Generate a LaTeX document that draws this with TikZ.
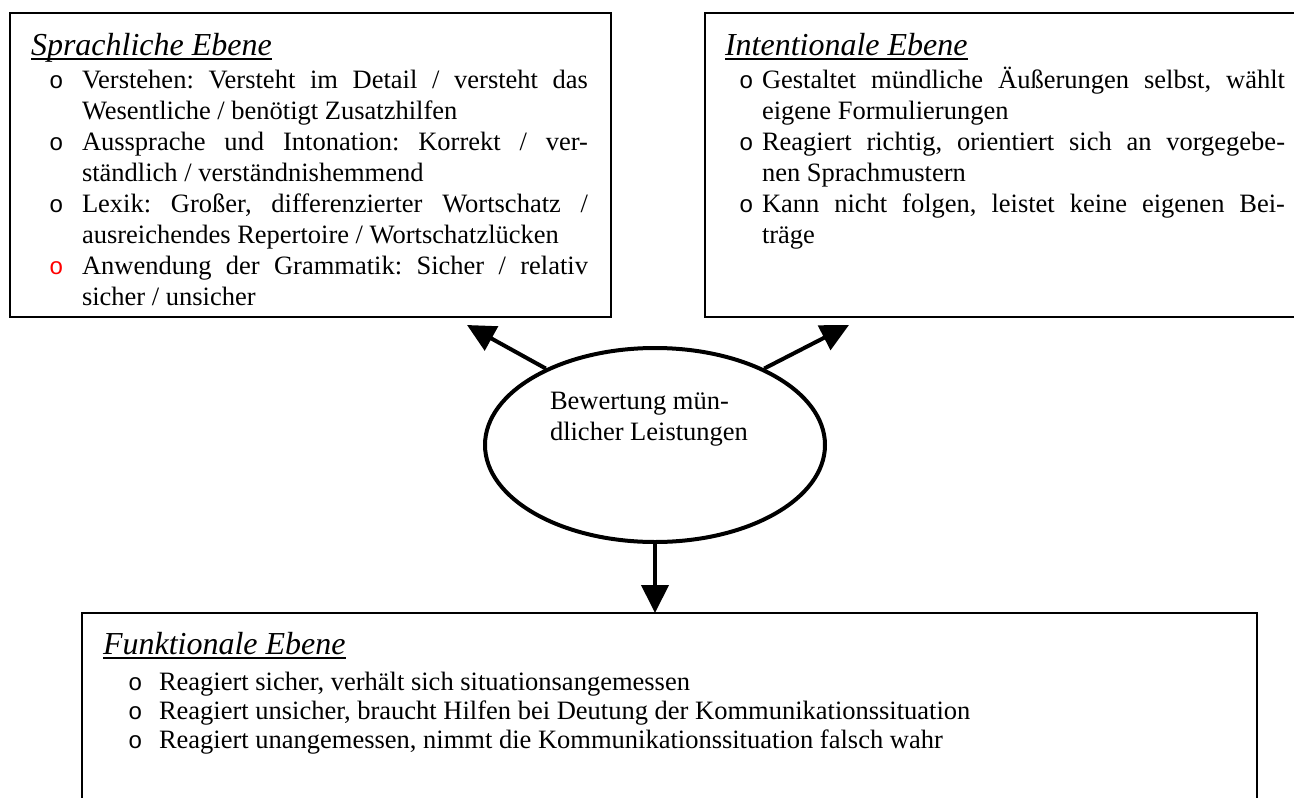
\documentclass[tikz,border=0pt]{standalone}
\usepackage{fontspec}
\setmainfont{Liberation Serif}
\setmonofont{Liberation Mono}
\usetikzlibrary{shapes.geometric,arrows.meta}
\frenchspacing
\newsavebox\titelbox
\newcommand\bul{{\fontsize{24}{24}\selectfont\ttfamily o}}
\newcommand\punktlabel[1]{#1\hfil}
\newcommand\zeile[1]{\makebox[\linewidth][s]{#1}}
\newcommand\ebenentitel[1]{\sbox\titelbox{\fontsize{32}{31}\selectfont\itshape #1}\rule{0pt}{30pt}\rlap{\usebox\titelbox}\rule[-5pt]{\wd\titelbox}{1.6pt}\par}
\newenvironment{punkte}[3]{\begin{list}{\bul}{\setlength\leftmargin{#1}\setlength\labelwidth{#2}\setlength\labelsep{0pt}\setlength\itemsep{0pt}\setlength\parsep{0pt}\setlength\topsep{#3}\setlength\partopsep{0pt}\let\makelabel\punktlabel}}{\end{list}}
\begin{document}
\begin{tikzpicture}[x=1pt,y=-1pt,
    ebene/.style={draw,line width=1.6pt,anchor=north west,outer sep=0pt,inner sep=0pt},
    inhalt/.style={anchor=north west,inner sep=0pt,outer sep=0pt},
    oval/.style={ellipse,draw,line width=4pt,minimum width=340pt,minimum height=194pt,inner sep=0pt},
    pfeil/.style={line width=4pt,-{Triangle[length=28pt,width=27pt]}}]
    \useasboundingbox (0,0) rectangle (1294,798);
    \node[ebene,minimum width=601pt,minimum height=304pt] (sprach) at (10,13) {};
    \node[ebene,minimum width=600pt,minimum height=304pt] (inten) at (705,13) {};
    \node[ebene,minimum width=1175pt,minimum height=200pt] (funk) at (82,613) {};
    \node[inhalt] (sprachtext) at ([shift={(21,12)}]sprach.north west) {\begin{minipage}[t]{557pt}\fontsize{26.5}{31}\selectfont
        \ebenentitel{Sprachliche Ebene}
        \begin{punkte}{51pt}{33pt}{2pt}
            \item \zeile{Verstehen: Versteht im Detail / versteht das}\\Wesentliche / benötigt Zusatzhilfen
            \item \zeile{Aussprache und Intonation: Korrekt / ver-}\\ständlich / verständnishemmend
            \item \zeile{Lexik: Großer, differenzierter Wortschatz /}\\ausreichendes Repertoire / Wortschatzlücken
            \item[\textcolor{red}{\bul}] \zeile{Anwendung der Grammatik: Sicher / relativ}\\sicher / unsicher
        \end{punkte}\end{minipage}};
    \node[inhalt] (intentext) at ([shift={(20,12)}]inten.north west) {\begin{minipage}[t]{560pt}\fontsize{26.5}{31}\selectfont
        \ebenentitel{Intentionale Ebene}
        \begin{punkte}{37pt}{23pt}{2pt}
            \item \zeile{Gestaltet mündliche Äußerungen selbst, wählt}\\eigene Formulierungen
            \item \zeile{Reagiert richtig, orientiert sich an vorgegebe-}\\nen Sprachmustern
            \item \zeile{Kann nicht folgen, leistet keine eigenen Bei-}\\träge
        \end{punkte}\end{minipage}};
    \node[inhalt] (funktext) at ([shift={(21,11)}]funk.north west) {\begin{minipage}[t]{1100pt}\fontsize{26.5}{29}\selectfont
        \ebenentitel{Funktionale Ebene}
        \begin{punkte}{56pt}{31pt}{7pt}
            \item Reagiert sicher, verhält sich situationsangemessen
            \item Reagiert unsicher, braucht Hilfen bei Deutung der Kommunikationssituation
            \item Reagiert unangemessen, nimmt die Kommunikationssituation falsch wahr
        \end{punkte}\end{minipage}};
    \node[oval] (bew) at (655,445) {};
    \node[inhalt,align=left,font=\fontsize{26.5}{31}\selectfont] (bewtext) at (550,384) {\rule{0pt}{25pt}Bewertung mün-\\dlicher Leistungen};
    \coordinate (spitzeL) at (467,325);
    \coordinate (spitzeR) at (849,325);
    \draw[pfeil] (bew.145) -- (spitzeL);
    \draw[pfeil] (bew.35) -- (spitzeR);
    \draw[pfeil] (bew.south) -- (bew.south |- funk.north);
\end{tikzpicture}
\end{document}
